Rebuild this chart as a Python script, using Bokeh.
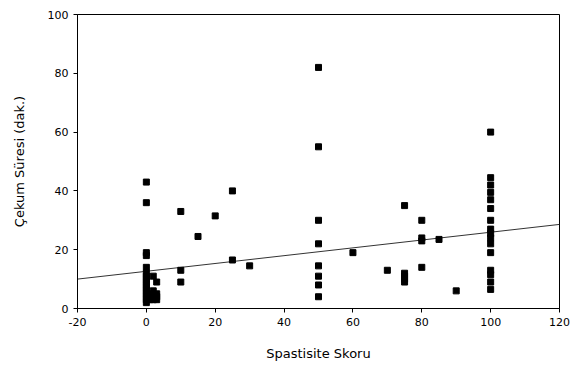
from bokeh.plotting import figure
from bokeh.models import ColumnDataSource, Range1d, FixedTicker
from bokeh.embed import file_html
from bokeh.resources import INLINE

# Data
x0_y = [43, 36, 19, 18, 14, 12, 11, 10, 9, 8, 7, 6, 5, 4, 3, 2]
x1_y = [5, 3]
x2_y = [11, 6, 4, 3]
x3_y = [9, 5, 4, 3]
x10_y = [33, 13, 9]
x15_y = [24.5]
x20_y = [31.5]
x25_y = [40, 16.5]
x30_y = [14.5]
x50_y = [82, 55, 30, 22, 14.5, 11, 8, 4]
x60_y = [19]
x70_y = [13]
x75_y = [35, 12, 11, 10, 9]
x80_y = [30, 24, 23, 14]
x85_y = [23.5]
x90_y = [6]
x100_y = [60, 44.5, 42, 39.5, 37, 34, 30, 27, 25.5, 24, 22, 19, 13, 11.5, 9, 6.5]

groups = [(0, x0_y), (1, x1_y), (2, x2_y), (3, x3_y), (10, x10_y), (15, x15_y),
          (20, x20_y), (25, x25_y), (30, x30_y), (50, x50_y), (60, x60_y),
          (70, x70_y), (75, x75_y), (80, x80_y), (85, x85_y), (90, x90_y),
          (100, x100_y)]

xs, ys = [], []
for gx, gys in groups:
    for gy in gys:
        xs.append(gx)
        ys.append(gy)

fit_x = [-20, 120]
fit_y = [10.0, 28.6]

x_ticks = [-20, 0, 20, 40, 60, 80, 100, 120]
x_tick_labels = ["-20", "0", "20", "40", "60", "80", "100", "120"]
y_ticks = [0, 20, 40, 60, 80, 100]

p = figure(width=570, height=363, output_backend="svg", toolbar_location=None,
           x_range=Range1d(-20, 120), y_range=Range1d(0, 100),
           min_border_left=77, min_border_right=11, min_border_top=14,
           min_border_bottom=52)

p.xgrid.visible = False
p.ygrid.visible = False
p.outline_line_color = "black"
p.outline_line_width = 1

p.line(fit_x, fit_y, line_color="#333333", line_width=1)
src = ColumnDataSource(dict(x=xs, y=ys))
p.scatter("x", "y", source=src, marker="square", size=6, fill_color="black",
          line_color="black")

for ax in (p.xaxis[0], p.yaxis[0]):
    ax.axis_line_color = "black"
    ax.major_tick_line_color = "black"
    ax.major_tick_out = 4
    ax.major_tick_in = 0
    ax.minor_tick_line_color = None
    ax.major_label_text_font = "DejaVu Sans"
    ax.major_label_text_font_size = "11px"
    ax.major_label_text_color = "black"
    ax.axis_label_text_font = "DejaVu Sans"
    ax.axis_label_text_font_size = "13px"
    ax.axis_label_text_font_style = "normal"
    ax.axis_label_text_color = "black"

p.xaxis.ticker = FixedTicker(ticks=x_ticks)
p.xaxis.major_label_overrides = {t: s for t, s in zip(x_ticks, x_tick_labels)}
p.yaxis.ticker = FixedTicker(ticks=y_ticks)
p.xaxis.axis_label = "Spastisite Skoru"
p.yaxis.axis_label = "Çekum Süresi (dak.)"
p.xaxis.axis_label_standoff = 17
p.yaxis.axis_label_standoff = 18
p.xaxis.major_label_standoff = 5
p.yaxis.major_label_standoff = 5

open("out.html", "w").write(file_html(p, INLINE))
